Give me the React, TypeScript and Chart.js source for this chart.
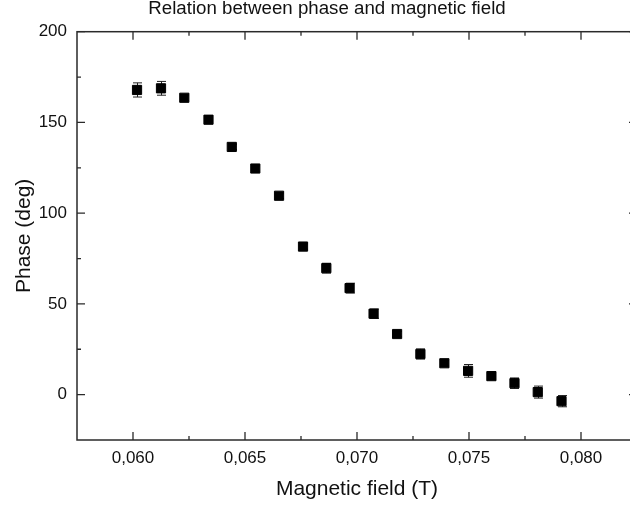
import React, { useEffect, useRef } from 'react';
import { Chart, registerables } from 'chart.js';

Chart.register(...registerables);

const FONT = 'Arial, "Liberation Sans", sans-serif';

// Data
const fieldT = [0.06018, 0.06125, 0.06229, 0.06337, 0.06441, 0.06546, 0.06652, 0.06759, 0.06863, 0.06967, 0.07074, 0.07179, 0.07283, 0.0739, 0.07496, 0.076, 0.07703, 0.07807, 0.07913];
const phaseDeg = [167.9, 168.8, 163.6, 151.5, 136.5, 124.6, 109.6, 81.6, 69.7, 58.7, 44.6, 33.4, 22.4, 17.3, 13.1, 10.2, 6.3, 1.4, -3.6];
const phaseErr = [3.9, 3.8, 1.5, 1.5, 1.5, 1.5, 1.5, 1.5, 2.7, 2.7, 2.6, 1.5, 2.8, 1.5, 3.5, 1.5, 2.9, 3.3, 3.1];

const xTickValues = [0.06, 0.065, 0.07, 0.075, 0.08];
const xTickLabels = ['0,060', '0,065', '0,070', '0,075', '0,080'];
const xMinorValues = [0.0625, 0.0675, 0.0725, 0.0775];
const yTickValues = [0, 50, 100, 150, 200];
const yTickLabels = ['0', '50', '100', '150', '200'];
const yMinorValues = [25, 75, 125, 175];

const chartTitle = 'Relation between phase and magnetic field';
const xTitle = 'Magnetic field (T)';
const yTitle = 'Phase (deg)';

const titlePlugin = {
  id: 'originTitle',
  afterDraw(chart: any) {
    const { ctx } = chart;
    ctx.save();
    ctx.fillStyle = '#111';
    ctx.font = `18.7px ${FONT}`;
    ctx.textAlign = 'center';
    ctx.textBaseline = 'alphabetic';
    ctx.fillText(chartTitle, 327, 13.5);
    ctx.restore();
  },
};

const framePlugin = {
  id: 'originFrame',
  beforeDatasetsDraw(chart: any) {
    const { ctx, chartArea, scales } = chart;
    const { left, right, top, bottom } = chartArea;
    const xs = scales.x;
    const ys = scales.y;
    ctx.save();
    ctx.strokeStyle = '#2a2a2a';
    ctx.lineWidth = 1.5;
    ctx.strokeRect(left, top, right - left, bottom - top);
    ctx.lineWidth = 1.3;
    const MAJ = 8;
    const MIN = 4;
    ctx.beginPath();
    const xTick = (v: number, len: number) => {
      const px = xs.getPixelForValue(v);
      ctx.moveTo(px, bottom);
      ctx.lineTo(px, bottom - len);
      ctx.moveTo(px, top);
      ctx.lineTo(px, top + len);
    };
    const yTick = (v: number, len: number) => {
      const py = ys.getPixelForValue(v);
      ctx.moveTo(left, py);
      ctx.lineTo(left + len, py);
      ctx.moveTo(right, py);
      ctx.lineTo(right - len, py);
    };
    xTickValues.forEach((v) => xTick(v, MAJ));
    xMinorValues.forEach((v) => xTick(v, MIN));
    yTickValues.forEach((v) => yTick(v, MAJ));
    yMinorValues.forEach((v) => yTick(v, MIN));
    ctx.stroke();

    // error bars
    ctx.strokeStyle = '#222';
    ctx.lineWidth = 1;
    ctx.beginPath();
    fieldT.forEach((f, i) => {
      const px = Math.round(xs.getPixelForValue(f)) + 0.5;
      const y1 = ys.getPixelForValue(phaseDeg[i] + phaseErr[i]);
      const y2 = ys.getPixelForValue(phaseDeg[i] - phaseErr[i]);
      ctx.moveTo(px, y1);
      ctx.lineTo(px, y2);
      ctx.moveTo(px - 4.5, y1);
      ctx.lineTo(px + 4.5, y1);
      ctx.moveTo(px - 4.5, y2);
      ctx.lineTo(px + 4.5, y2);
    });
    ctx.stroke();
    ctx.restore();
  },
};

export default function App() {
  const canvasRef = useRef<HTMLCanvasElement | null>(null);

  useEffect(() => {
    if (!canvasRef.current) return;
    const chart = new Chart(canvasRef.current, {
      type: 'scatter',
      data: {
        datasets: [
          {
            label: 'Phase',
            data: fieldT.map((f, i) => ({ x: f, y: phaseDeg[i] })),
            backgroundColor: '#000',
            borderColor: '#000',
            borderWidth: 1,
            pointStyle: 'rect',
            pointRadius: 6.5,
            pointHoverRadius: 6.5,
            showLine: false,
          },
        ],
      },
      options: {
        responsive: false,
        animation: false,
        events: [],
        layout: { padding: { left: 0, right: 13, top: 31.7, bottom: 0 } },
        plugins: {
          legend: { display: false },
          tooltip: { enabled: false },
          title: { display: false },
        },
        scales: {
          x: {
            type: 'linear',
            min: 0.0575,
            max: 0.0825,
            afterFit: (s: any) => {
              s.height = 70;
            },
            afterBuildTicks: (s: any) => {
              s.ticks = xTickValues.map((v) => ({ value: v }));
            },
            grid: { display: false, drawTicks: false },
            border: { display: false },
            ticks: {
              color: '#111',
              font: { family: FONT, size: 17 },
              padding: 8,
              maxRotation: 0,
              autoSkip: false,
              callback: (_v: any, i: number) => xTickLabels[i],
            },
            title: {
              display: true,
              text: xTitle,
              color: '#111',
              font: { family: FONT, size: 21 },
              padding: { top: 0, bottom: 7.7 },
            },
          },
          y: {
            type: 'linear',
            min: -25,
            max: 200,
            afterFit: (s: any) => {
              s.width = 77;
            },
            afterBuildTicks: (s: any) => {
              s.ticks = yTickValues.map((v) => ({ value: v }));
            },
            grid: { display: false, drawTicks: false },
            border: { display: false },
            ticks: {
              color: '#111',
              font: { family: FONT, size: 17 },
              padding: 10,
              autoSkip: false,
              callback: (_v: any, i: number) => yTickLabels[i],
            },
            title: {
              display: true,
              text: yTitle,
              color: '#111',
              font: { family: FONT, size: 21 },
              padding: { top: 11.4, bottom: 0 },
            },
          },
        },
      },
      plugins: [framePlugin, titlePlugin],
    });
    return () => chart.destroy();
  }, []);

  return (
    <div style={{ position: 'absolute', left: 0, top: 0, width: 630, height: 510, overflow: 'hidden', background: '#fff' }}>
      <canvas ref={canvasRef} width={650} height={510} style={{ display: 'block', width: 650, height: 510 }} />
    </div>
  );
}
